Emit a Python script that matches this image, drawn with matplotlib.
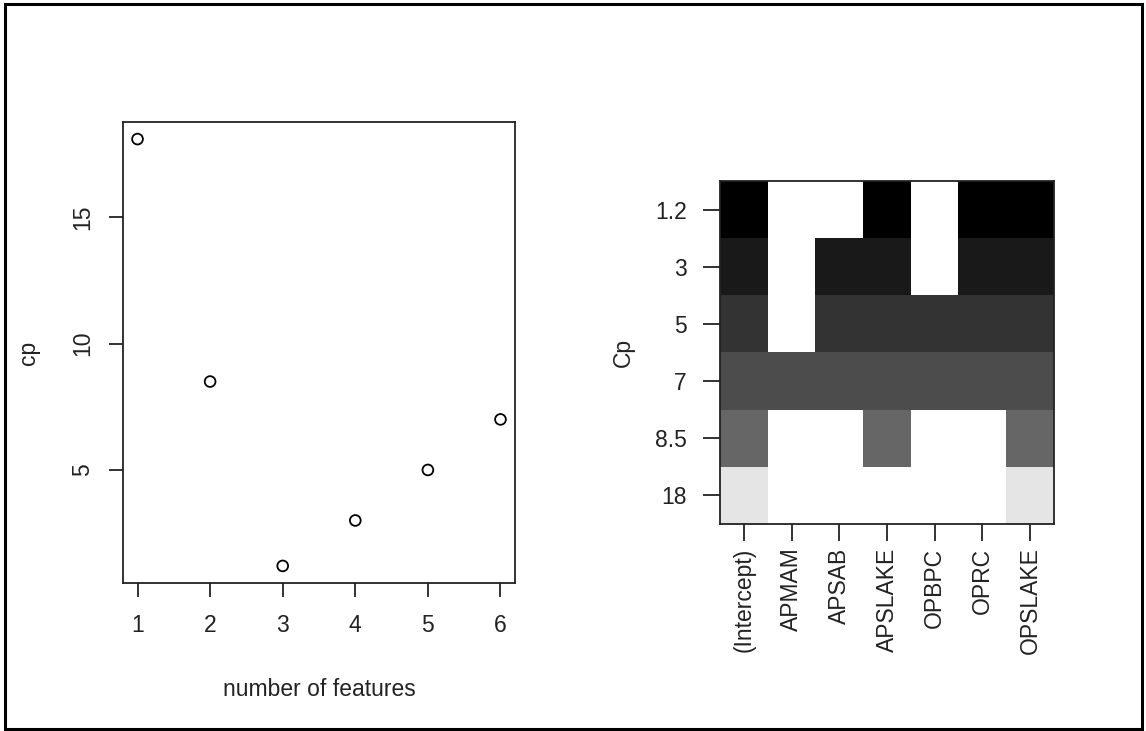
import numpy as np
import matplotlib
matplotlib.use("Agg")
import matplotlib.pyplot as plt
from matplotlib.patches import Rectangle

plt.rcParams['font.family'] = ['Liberation Sans', 'DejaVu Sans']

# Left panel data
n_features = [1, 2, 3, 4, 5, 6]
cp_values = [18.1, 8.5, 1.2, 3.0, 5.0, 7.0]

# Right panel data (regsubsets plot)
variables = ["(Intercept)", "APMAM", "APSAB", "APSLAKE", "OPBPC", "OPRC", "OPSLAKE"]
cp_labels = ["1.2", "3", "5", "7", "8.5", "18"]
row_gray = [0.0, 0.1, 0.2, 0.3, 0.4, 0.9]
included = [
    [1, 0, 0, 1, 0, 1, 1],
    [1, 0, 1, 1, 0, 1, 1],
    [1, 0, 1, 1, 1, 1, 1],
    [1, 1, 1, 1, 1, 1, 1],
    [1, 0, 0, 1, 0, 0, 1],
    [1, 0, 0, 0, 0, 0, 1],
]

W, H = 1146, 731
fig = plt.figure(figsize=(W / 100, H / 100), dpi=100)

FS = 16.5
LW = 1.3

# ---- left scatter ----
ax1 = fig.add_axes([123 / W, (H - 583) / H, 392 / W, 461 / H])
ax1.scatter(n_features, cp_values, s=60, facecolors='none', edgecolors='black', linewidths=1.3, zorder=3)
xr = max(n_features) - min(n_features)
ax1.set_xlim(min(n_features) - 0.04 * xr, max(n_features) + 0.04 * xr)
yr = max(cp_values) - min(cp_values)
ax1.set_ylim(min(cp_values) - 0.04 * yr, max(cp_values) + 0.04 * yr)
ax1.set_xticks(n_features)
ax1.set_yticks([5, 10, 15])
ax1.tick_params(axis='x', length=10, width=LW, labelsize=FS, pad=12, colors='#222222')
ax1.tick_params(axis='y', length=10, width=LW, labelsize=FS, pad=11, colors='#222222')
for lab in ax1.get_yticklabels():
    lab.set_rotation(90)
    lab.set_va('center')
for s in ax1.spines.values():
    s.set_linewidth(LW)
    s.set_color('#222222')
ax1.set_xlabel("number of features", fontsize=FS, labelpad=30, color='#222222')
ax1.set_ylabel("cp", fontsize=FS, labelpad=22, color='#222222')

# ---- right regsubsets plot ----
ax2 = fig.add_axes([720 / W, (H - 524) / H, 334 / W, 343 / H])
nrow, ncol = len(cp_labels), len(variables)
img = np.ones((nrow, ncol, 3))
for i in range(nrow):
    for j in range(ncol):
        if included[i][j]:
            img[i, j, :] = row_gray[i]
ax2.imshow(img, aspect='auto', extent=(-0.5, ncol - 0.5, nrow - 0.5, -0.5), interpolation='nearest')
ax2.set_xticks(range(ncol))
ax2.set_xticklabels(variables, rotation=90, fontsize=FS)
ax2.set_yticks(range(nrow))
ax2.set_yticklabels(cp_labels, fontsize=FS)
ax2.tick_params(axis='x', length=12, width=LW, pad=5, colors='#222222')
ax2.tick_params(axis='y', length=12, width=LW, pad=12, colors='#222222')
for s in ax2.spines.values():
    s.set_linewidth(LW)
    s.set_color('#222222')
ax2.set_ylabel("Cp", fontsize=FS, labelpad=14, color='#222222')

# outer frame
fig.patches.append(Rectangle((5 / W, 2 / H), 1137 / W, 725 / H, transform=fig.transFigure,
                             fill=False, edgecolor='black', linewidth=2.2))

fig.savefig("out.png", dpi=100)
